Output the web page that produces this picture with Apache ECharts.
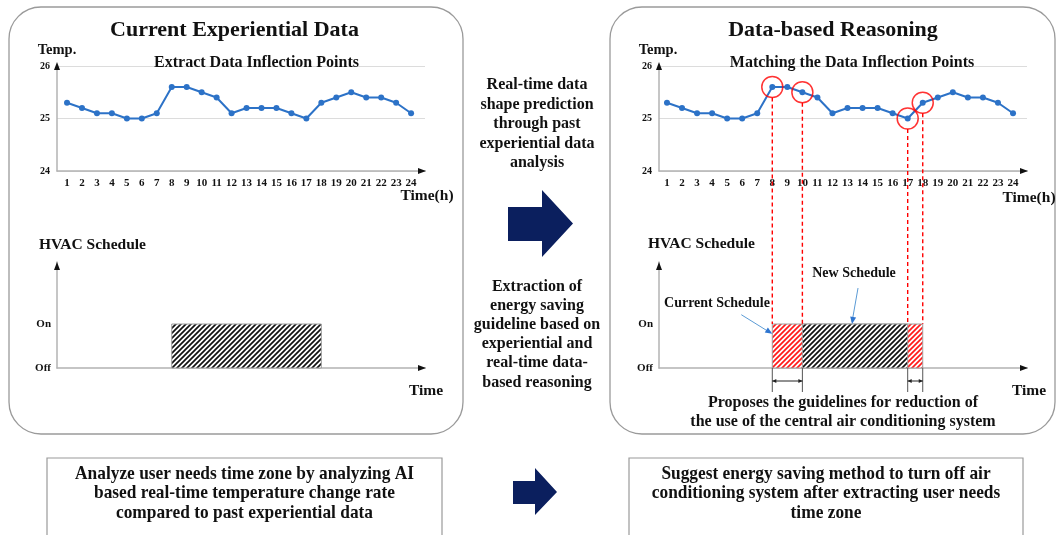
<!DOCTYPE html>
<html><head><meta charset="utf-8">
<script src="https://cdn.jsdelivr.net/npm/echarts@6/dist/echarts.min.js"></script>
<style>html,body{margin:0;padding:0;background:#fff}#c{width:1057px;height:535px}</style>
</head><body><div id="c"></div>
<script>
// ---- data ----
const hours = [1,2,3,4,5,6,7,8,9,10,11,12,13,14,15,16,17,18,19,20,21,22,23,24];
const temps = [25.3,25.2,25.1,25.1,25.0,25.0,25.1,25.6,25.6,25.5,25.4,25.1,25.2,25.2,25.2,25.1,25.0,25.3,25.4,25.5,25.4,25.4,25.3,25.1];
const tempTicks = [24,25,26];
const scheduleTicks = [0,1];
const scheduleLabels = ['Off','On'];
const scheduleOn = 1;
const currentSchedule = [8,18];
const newSchedule = [10,17];
const inflectionHours = [8,10,17,18];

// ---- styles / layout ----
const SERIF = '"Liberation Serif","Times New Roman",serif';
const LINE_COLOR = '#2c72c7';
const AXIS_COLOR = '#b3b3b3';
const grids = [
  {left:57, top:66, width:368, height:105},
  {left:57, top:262, width:368, height:106},
  {left:659, top:66, width:368, height:105},
  {left:659, top:262, width:368, height:106}
];
const xMin = [0.33,0.33,0.47,0.47];
const xMax = 24.93;
const schedMax = 2.41;

function hatch(color){
  const s=5, c=document.createElement('canvas'); c.width=s; c.height=s;
  const ctx=c.getContext('2d');
  ctx.fillStyle='#fff'; ctx.fillRect(0,0,s,s);
  ctx.strokeStyle=color; ctx.lineWidth=1.7;
  ctx.beginPath();
  ctx.moveTo(0,s); ctx.lineTo(s,0);
  ctx.moveTo(-1,1); ctx.lineTo(1,-1);
  ctx.moveTo(s-1,s+1); ctx.lineTo(s+1,s-1);
  ctx.stroke();
  return {image:c, repeat:'repeat'};
}
const blackHatch = hatch('#111');
const redHatch = hatch('#ff1a1a');

function xAx(gi, labels){
  return {type:'value', gridIndex:gi, min:xMin[gi], max:xMax,
    axisLine:{show:true, lineStyle:{color:AXIS_COLOR, width:1.5}},
    axisTick:{show:false}, splitLine:{show:false},
    axisLabel: labels ? {customValues:hours, formatter:v=>String(v), color:'#111', fontFamily:SERIF, fontWeight:'bold', fontSize:11, margin:7} : {show:false}};
}
function tempY(gi){
  return {type:'value', gridIndex:gi, min:tempTicks[0], max:tempTicks[tempTicks.length-1], interval:1,
    axisLine:{show:true, lineStyle:{color:AXIS_COLOR, width:1.5}}, axisTick:{show:false},
    splitLine:{show:true, lineStyle:{color:'#dcdcdc', width:1}},
    axisLabel:{color:'#111', fontFamily:SERIF, fontWeight:'bold', fontSize:10, margin:7}};
}
function schedY(gi){
  return {type:'value', gridIndex:gi, min:0, max:schedMax,
    axisLine:{show:true, lineStyle:{color:AXIS_COLOR, width:1.5}}, axisTick:{show:false},
    splitLine:{show:false},
    axisLabel:{customValues:scheduleTicks, formatter:v=>scheduleLabels[scheduleTicks.indexOf(v)], color:'#111', fontFamily:SERIF, fontWeight:'bold', fontSize:11, margin:6}};
}
function lineSeries(gi){
  return {type:'line', xAxisIndex:gi, yAxisIndex:gi, data:hours.map((h,i)=>[h,temps[i]]),
    symbol:'circle', symbolSize:6, showSymbol:true, lineStyle:{width:2, color:LINE_COLOR},
    itemStyle:{color:LINE_COLOR}, z:3, animation:false};
}
function blockSeries(gi, range, pattern, z){
  return {type:'custom', xAxisIndex:gi, yAxisIndex:gi, data:[[range[0], range[1], scheduleOn]], z:z, animation:false,
    renderItem:(params, api)=>{
      const p0 = api.coord([api.value(0), 0]);
      const p1 = api.coord([api.value(1), api.value(2)]);
      return {type:'rect', shape:{x:p0[0], y:p1[1], width:p1[0]-p0[0], height:p0[1]-p1[1]},
        style:{fill:pattern, stroke:'#a0a0a0', lineWidth:1}};
    }};
}

const chart = echarts.init(document.getElementById('c'));
chart.setOption({
  animation:false,
  grid: grids,
  xAxis: [xAx(0,true), xAx(1,false), xAx(2,true), xAx(3,false)],
  yAxis: [tempY(0), schedY(1), tempY(2), schedY(3)],
  series: [
    lineSeries(0),
    lineSeries(2),
    {type:'scatter', xAxisIndex:2, yAxisIndex:2, z:5, animation:false,
      data: inflectionHours.map(h=>[h, temps[hours.indexOf(h)]]),
      symbol:'circle', symbolSize:21,
      itemStyle:{color:'rgba(0,0,0,0)', borderColor:'#ff0000', borderWidth:1.5}},
    blockSeries(1, currentSchedule, blackHatch, 2),
    blockSeries(3, currentSchedule, redHatch, 2),
    blockSeries(3, newSchedule, blackHatch, 3)
  ]
});

// ---- annotations (positions derived from the chart scales) ----
const px = (gi, v) => chart.convertToPixel({gridIndex:gi}, v);
function txt(x, y, text, size, opts){
  opts = opts || {};
  const el = {type:'text', x:x, y:y, z:20, silent:true,
    style:{text:text, font:'bold '+size+'px '+SERIF, fill:opts.fill||'#111',
      textAlign:opts.align||'center', align:opts.align||'center',
      textVerticalAlign:'middle', verticalAlign:'middle', lineHeight:opts.lh||size*1.2}};
  if (opts.scaleX) el.scaleX = opts.scaleX;
  return el;
}
function head(x1,y1,x2,y2,len,w,color){
  const a=Math.atan2(y2-y1,x2-x1);
  const bx=x2-len*Math.cos(a), by=y2-len*Math.sin(a);
  const ox=-Math.sin(a)*w/2, oy=Math.cos(a)*w/2;
  return {type:'polygon', z:21, silent:true, shape:{points:[[x2,y2],[bx+ox,by+oy],[bx-ox,by-oy]]}, style:{fill:color}};
}
function seg(x1,y1,x2,y2,color,w,dash){
  return {type:'line', z:19, silent:true, shape:{x1:x1,y1:y1,x2:x2,y2:y2}, style:{stroke:color, lineWidth:w, lineDash:dash||null}};
}
const g = [];
// panels
g.push({type:'rect', z:0, silent:true, shape:{x:9, y:7, width:454, height:427, r:32}, style:{fill:'none', stroke:'#9a9a9a', lineWidth:1.3}});
g.push({type:'rect', z:0, silent:true, shape:{x:610, y:7, width:445, height:427, r:32}, style:{fill:'none', stroke:'#9a9a9a', lineWidth:1.3}});
// bottom boxes
g.push({type:'rect', z:0, silent:true, shape:{x:47, y:458, width:395, height:90}, style:{fill:'none', stroke:'#9a9a9a', lineWidth:1.2}});
g.push({type:'rect', z:0, silent:true, shape:{x:629, y:458, width:394, height:90}, style:{fill:'none', stroke:'#9a9a9a', lineWidth:1.2}});
// axis arrowheads
[0,1,2,3].forEach(gi=>{
  const isTemp = gi%2===0;
  const yTop = isTemp ? tempTicks[tempTicks.length-1] : schedMax;
  const yBot = isTemp ? tempTicks[0] : 0;
  const xe = px(gi,[xMax,yBot]);
  g.push(head(xe[0]-8, xe[1], xe[0]+1, xe[1], 8, 6, '#111'));
  const ye = px(gi,[xMin[gi],yTop]);
  g.push(head(ye[0], ye[1]+6, ye[0], ye[1]-(isTemp?4:0), 8, 6, '#111'));
});
// titles and labels
g.push(txt(234.5, 30, 'Current Experiential Data', 22));
g.push(txt(833, 30, 'Data-based Reasoning', 22));
g.push(txt(256.5, 63, 'Extract Data Inflection Points', 16));
g.push(txt(852, 63, 'Matching the Data Inflection Points', 16));
g.push(txt(57, 50, 'Temp.', 14.5));
g.push(txt(658, 50, 'Temp.', 14.5));
g.push(txt(427, 196, 'Time(h)', 15.5));
g.push(txt(1029, 198, 'Time(h)', 15.5));
g.push(txt(39, 245, 'HVAC Schedule', 15.5, {align:'left'}));
g.push(txt(648, 244, 'HVAC Schedule', 15.5, {align:'left'}));
g.push(txt(426, 391, 'Time', 15.5));
g.push(txt(1029, 391, 'Time', 15.5));
g.push(txt(717, 303, 'Current Schedule', 14));
g.push(txt(854, 273, 'New Schedule', 14));
g.push(txt(843, 412.5, 'Proposes the guidelines for reduction of\nthe use of the central air conditioning system', 16, {lh:19}));
g.push(txt(537, 124, 'Real-time data\nshape prediction\nthrough past\nexperiential data\nanalysis', 16, {lh:19.5}));
g.push(txt(537, 334.5, 'Extraction of\nenergy saving\nguideline based on\nexperiential and\nreal-time data-\nbased reasoning', 16, {lh:19.2}));
g.push(txt(244.5, 493, 'Analyze user needs time zone by analyzing AI\nbased real-time temperature change rate\ncompared to past experiential data', 19.5, {lh:19.5, scaleX:0.89}));
g.push(txt(826, 493, 'Suggest energy saving method to turn off air\nconditioning system after extracting user needs\ntime zone', 19.5, {lh:19.5, scaleX:0.89}));
// navy arrows
g.push({type:'polygon', z:5, silent:true, shape:{points:[[508,207],[542,207],[542,190],[573,223.5],[542,257],[542,241],[508,241]]}, style:{fill:'#0b1f5e'}});
g.push({type:'polygon', z:5, silent:true, shape:{points:[[513,481],[535,481],[535,468],[557,492],[535,515],[535,504],[513,504]]}, style:{fill:'#0b1f5e'}});
// red dashed inflection guides
inflectionHours.forEach(h=>{
  const p = px(2,[h, temps[hours.indexOf(h)]]);
  const b = px(3,[h, scheduleOn]);
  g.push(seg(b[0], p[1]+10.5, b[0], b[1], '#ff0000', 1.4, [4,3]));
  const o = px(3,[h, 0]);
  g.push(seg(o[0], o[1], o[0], o[1]+24, '#555', 1));
});
// double arrows for reduced periods
[[currentSchedule[0], newSchedule[0]], [newSchedule[1], currentSchedule[1]]].forEach(pr=>{
  const a = px(3,[pr[0],0]), b = px(3,[pr[1],0]);
  const y = a[1]+13;
  g.push(seg(a[0], y, b[0], y, '#222', 1));
  g.push(head(b[0], y, a[0], y, 4, 4, '#222'));
  g.push(head(a[0], y, b[0], y, 4, 4, '#222'));
});
// blue callouts
(function(){
  const e1 = px(3,[currentSchedule[0], 0.78]);
  const s1 = [e1[0]-31, e1[1]-19];
  g.push(seg(s1[0], s1[1], e1[0]-2, e1[1]-1, '#5b9bd5', 1));
  g.push(head(s1[0], s1[1], e1[0], e1[1], 7, 6, '#2e75d0'));
  const e2 = px(3,[(newSchedule[0]+newSchedule[1])/2 - 0.2, scheduleOn]);
  const s2 = [e2[0]+6, e2[1]-36];
  g.push(seg(s2[0], s2[1], e2[0], e2[1]-2, '#5b9bd5', 1));
  g.push(head(s2[0], s2[1], e2[0], e2[1], 7, 6, '#2e75d0'));
})();
chart.setOption({graphic:{elements:g}});
</script></body></html>
